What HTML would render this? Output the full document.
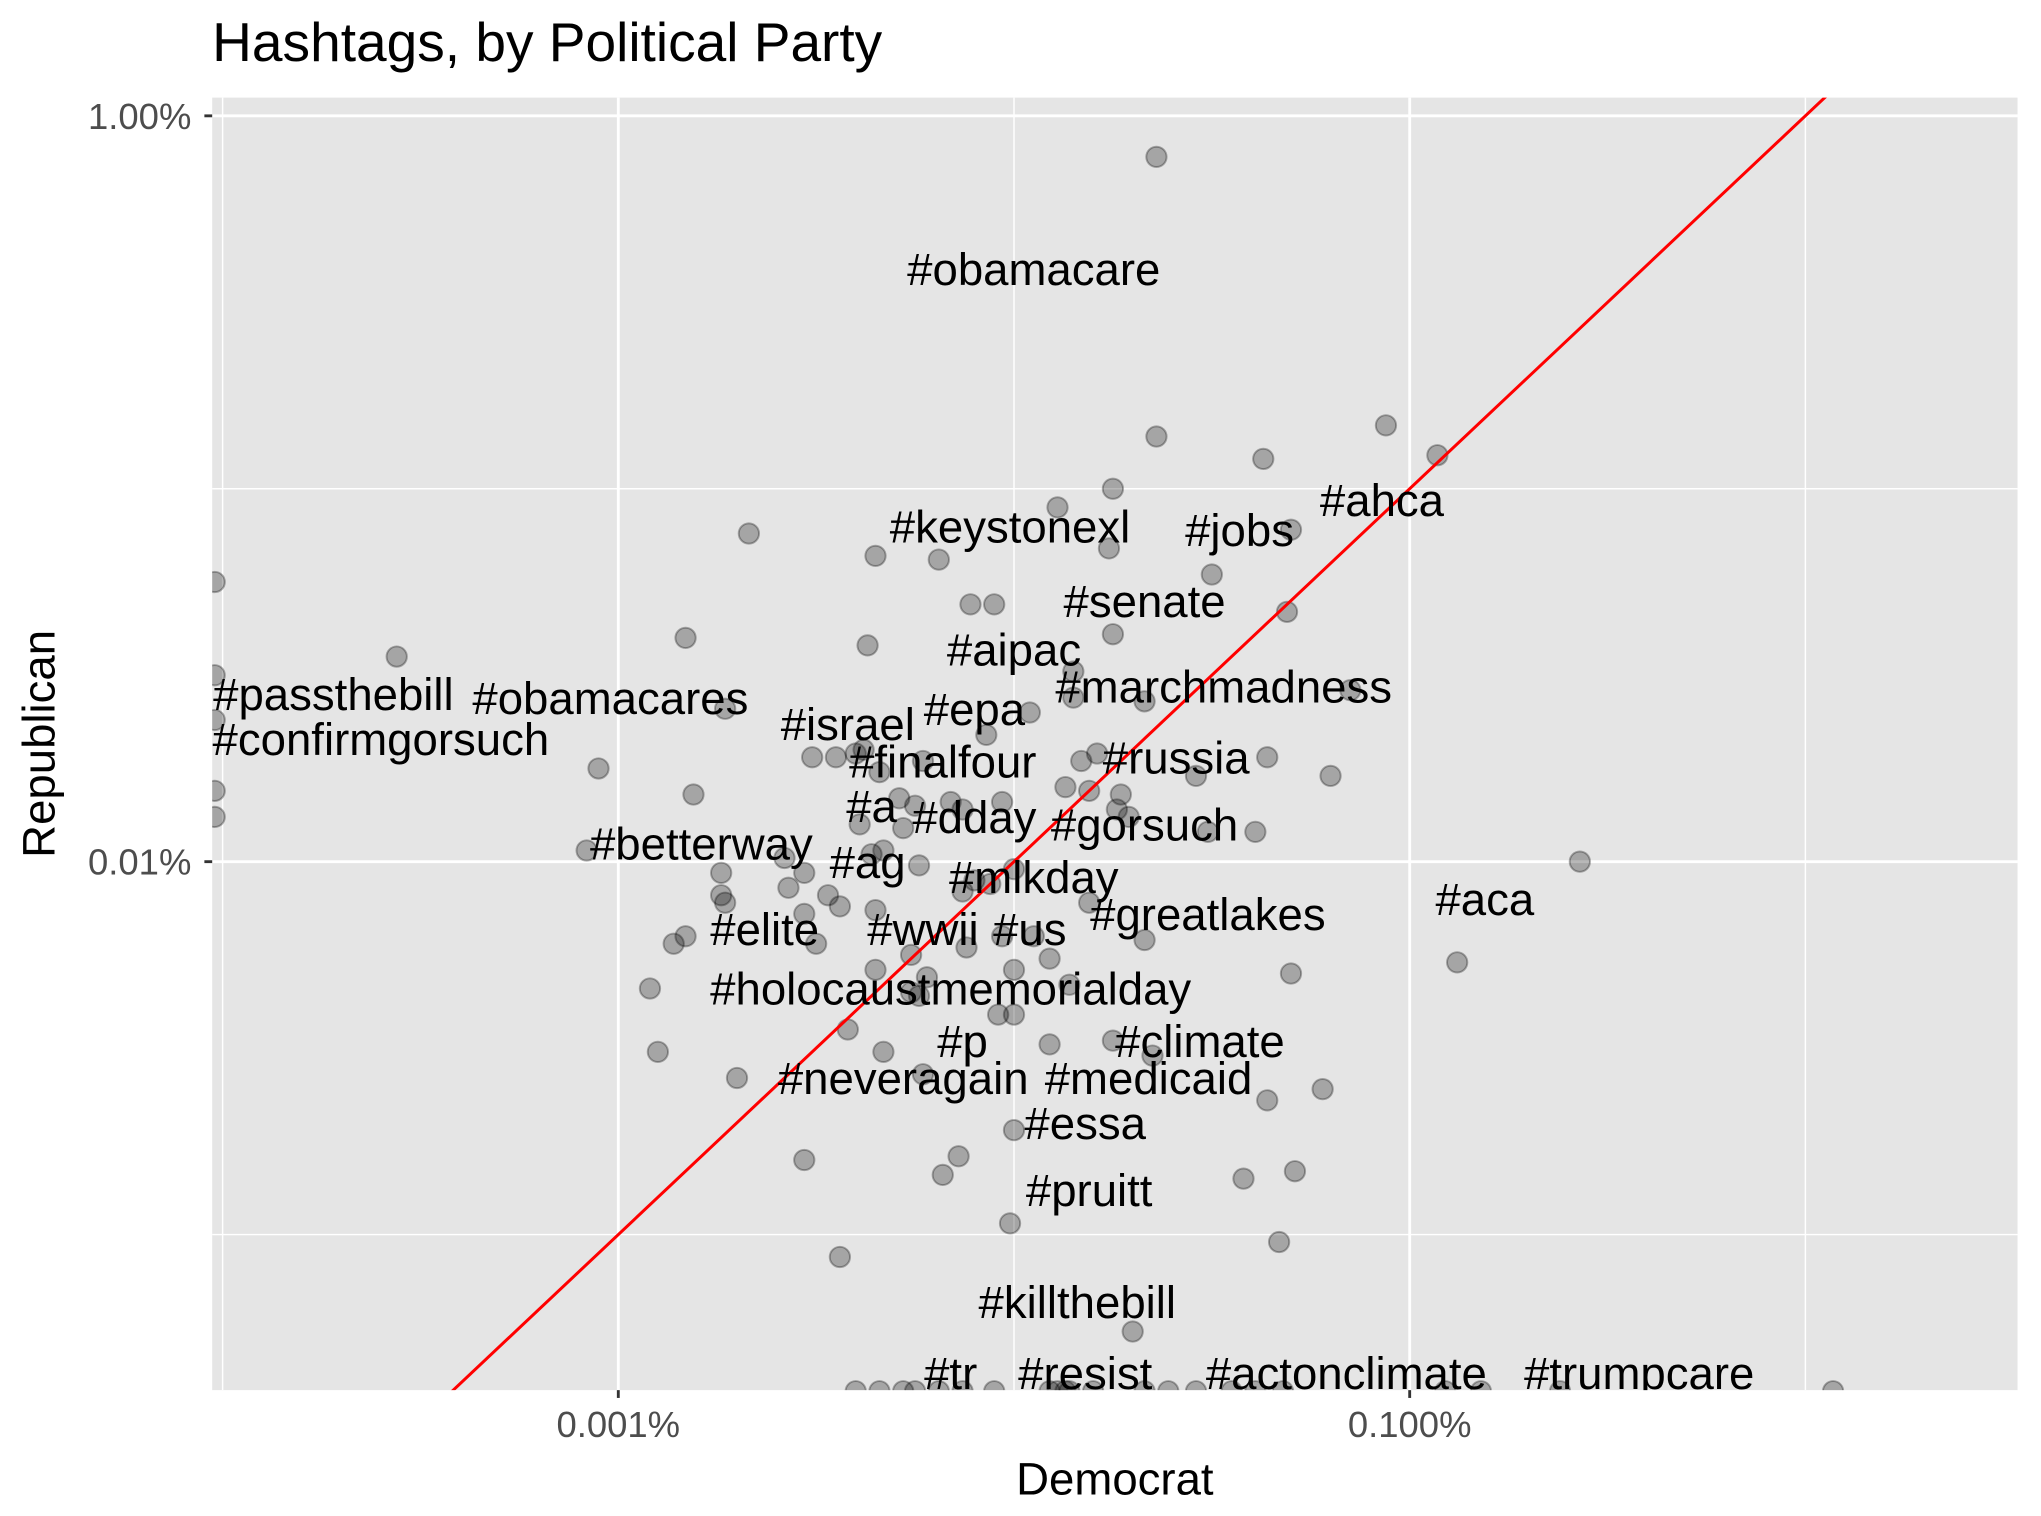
<!DOCTYPE html>
<html><head><meta charset="utf-8"><style>
html,body{margin:0;padding:0;background:#fff;overflow:hidden;width:2041px;height:1516px;}
svg{display:block;font-family:"Liberation Sans",Arial,sans-serif;}
</style></head><body>
<svg id="chart" width="2041" height="1516" viewBox="0 0 1568 1164.7" xmlns="http://www.w3.org/2000/svg">
<text x="163" y="47" font-size="42.3" fill="#000">Hashtags, by Political Party</text>
<defs><clipPath id="panelClip"><rect x="163" y="75" width="1387" height="993"/></clipPath></defs>
<rect x="163" y="75" width="1387" height="993" fill="#e5e5e5"/>
<g id="grid"></g>
<g id="marks" clip-path="url(#panelClip)"></g>
<g id="axes"></g>
<text x="856.5" y="1148" font-size="35" text-anchor="middle" fill="#000">Democrat</text>
<text transform="translate(42,571.5) rotate(-90)" font-size="35" text-anchor="middle" fill="#000">Republican</text>
</svg>
<script>
// log10 of percentage share
const demLog = [-1.64,-1.64,-1.06,-1.37,-0.93,-1.75,-1.89,-2.67,-2.35,-2.19,-1.76,-1.30,-1.50,-4.02,-2.11,-2.05,-1.31,-1.75,-2.83,-2.37,-3.56,-1.85,-4.02,-1.67,-1.15,-1.85,-2.73,-1.96,-4.02,-2.07,-3.05,-2.51,-2.45,-2.40,-2.38,-2.34,-2.23,-1.83,-1.79,-1.36,-1.54,-1.20,-2.81,-4.02,-4.02,-1.87,-1.81,-1.73,-2.03,-2.16,-2.13,-2.29,-2.25,-2.28,-2.39,-1.74,-1.71,-1.51,-1.39,-3.08,-2.58,-2.36,-2.33,-2.24,-2.74,-2.53,-2.57,-2.44,-2.74,-2.73,-2.53,-2.47,-2.35,-2.13,-2.10,-2.06,-2.00,-1.81,-1.67,-0.57,-2.83,-2.86,-2.50,-2.03,-2.12,-1.95,-1.91,-2.26,-2.35,-2.22,-2.26,-2.24,-2.00,-1.86,-1.30,-0.88,-2.92,-2.04,-2.00,-2.42,-2.90,-2.33,-1.91,-1.75,-1.65,-2.23,-2.70,-1.36,-1.22,-2.00,-2.14,-2.53,-2.18,-1.42,-1.29,-2.01,-2.44,-1.33,-1.70,
-2.40,-2.34,-2.28,-2.25,-2.19,-2.13,-2.05,-1.91,-1.89,-1.87,-1.86,-1.80,-1.67,-1.61,-1.54,-1.45,-1.39,-1.32,-0.91,-0.82,-0.62,0.07];
const repLog = [-0.11,-0.86,-0.83,-0.92,-0.91,-1.00,-1.05,-1.12,-1.18,-1.19,-1.16,-1.11,-1.23,-1.25,-1.31,-1.31,-1.33,-1.39,-1.40,-1.42,-1.45,-1.49,-1.50,-1.57,-1.54,-1.56,-1.59,-1.60,-1.62,-1.66,-1.75,-1.72,-1.72,-1.71,-1.70,-1.76,-1.73,-1.73,-1.71,-1.72,-1.77,-1.77,-1.82,-1.81,-1.88,-1.80,-1.81,-1.82,-1.84,-1.84,-1.86,-1.83,-1.85,-1.91,-1.90,-1.86,-1.88,-1.92,-1.92,-1.97,-1.99,-1.98,-1.97,-2.01,-2.03,-2.03,-2.07,-2.12,-2.09,-2.11,-2.14,-2.09,-2.13,-2.08,-2.05,-2.06,-2.02,-2.11,-2.21,-2.00,-2.20,-2.22,-2.22,-2.20,-2.23,-2.20,-2.26,-2.25,-2.29,-2.31,-2.35,-2.36,-2.29,-2.33,-2.30,-2.27,-2.34,-2.41,-2.41,-2.45,-2.51,-2.51,-2.49,-2.48,-2.52,-2.57,-2.58,-2.64,-2.61,-2.72,-2.79,-2.80,-2.84,-2.85,-2.83,-2.97,-3.06,-3.02,-3.26,
-3.42,-3.42,-3.42,-3.42,-3.42,-3.42,-3.42,-3.42,-3.42,-3.42,-3.42,-3.42,-3.42,-3.42,-3.42,-3.42,-3.42,-3.42,-3.42,-3.42,-3.42,-3.42];
const labelText = ["#obamacare","#keystonexl","#jobs","#ahca","#senate","#aipac","#marchmadness","#passthebill","#obamacares","#epa","#israel","#confirmgorsuch","#finalfour","#russia","#a","#dday","#gorsuch","#betterway","#ag","#mlkday","#greatlakes","#aca","#elite","#wwii","#us","#holocaustmemorialday","#p","#climate","#neveragain","#medicaid","#essa","#pruitt","#killthebill","#tr","#resist","#actonclimate","#trumpcare"];
const labelDem = [-1.95,-2.01,-1.43,-1.07,-1.67,-2.00,-1.47,-3.72,-3.02,-2.10,-2.42,-3.60,-2.18,-1.59,-2.36,-2.10,-1.67,-2.79,-2.37,-1.95,-1.51,-0.81,-2.63,-2.23,-1.96,-2.16,-2.13,-1.53,-2.28,-1.66,-1.82,-1.81,-1.84,-2.16,-1.82,-1.16,-0.42];
const labelRep = [-0.41,-1.10,-1.11,-1.03,-1.30,-1.43,-1.53,-1.55,-1.56,-1.59,-1.63,-1.67,-1.73,-1.72,-1.85,-1.88,-1.90,-1.95,-2.00,-2.04,-2.14,-2.10,-2.18,-2.18,-2.18,-2.34,-2.48,-2.48,-2.58,-2.58,-2.70,-2.88,-3.18,-3.37,-3.37,-3.37,-3.37];
const xTickVals = [-3,-1];
const xTickLabels = ["0.001%","0.100%"];
const xMinor = [-4,-2,0];
const yTickVals = [0,-2];
const yTickLabels = ["1.00%","0.01%"];
const yMinor = [-1,-3];

const NS = "http://www.w3.org/2000/svg";
const PL=163, PR=1550, PT=75, PB=1068;
function sx(v){return 475+(v+3)*304;}
function sy(v){return 89-v*286.5;}
function mk(tag,attrs,parent){const e=document.createElementNS(NS,tag);for(const k in attrs)e.setAttribute(k,attrs[k]);parent.appendChild(e);return e;}
const grid=document.getElementById('grid'), marks=document.getElementById('marks'), axes=document.getElementById('axes');
xMinor.forEach(v=>{const x=sx(v); if(x<PL||x>PR)return;
  const l=mk('line',{x1:x,x2:x,y1:PT,y2:PB,stroke:'#fff','stroke-width':1.1},grid);
  
  });
yMinor.forEach(v=>{const y=sy(v);
  const l=mk('line',{x1:PL,x2:PR,y1:y,y2:y,stroke:'#fff','stroke-width':1.1},grid);
  
  });
xTickVals.forEach((v,i)=>{const x=sx(v);
  const l=mk('line',{x1:x,x2:x,y1:PT,y2:PB,stroke:'#fff','stroke-width':2.2},grid);
  
  
  const t=mk('line',{x1:x,x2:x,y1:PB,y2:PB+6,stroke:'#333','stroke-width':2.2},axes);
  
  
  const tx=mk('text',{x:x,y:PB+36,'font-size':28,'text-anchor':'middle',fill:'#4d4d4d'},axes);
  tx.textContent=xTickLabels[i];
  
  });
yTickVals.forEach((v,i)=>{const y=sy(v);
  const l=mk('line',{x1:PL,x2:PR,y1:y,y2:y,stroke:'#fff','stroke-width':2.2},grid);
  
  
  const t=mk('line',{x1:PL-6,x2:PL,y1:y,y2:y,stroke:'#333','stroke-width':2.2},axes);
  
  
  const tx=mk('text',{x:PL-16,y:y+10,'font-size':28,'text-anchor':'end',fill:'#4d4d4d'},axes);
  tx.textContent=yTickLabels[i];
  
  });
demLog.forEach((d,i)=>{
  const c=mk('circle',{cx:sx(d),cy:sy(repLog[i]),r:7.8,fill:'rgba(0,0,0,0.28)',stroke:'rgba(0,0,0,0.3)','stroke-width':1.5},marks);
  
  });
// y = x reference line
const lo=-3.6, hi=0.3;
const ln=mk('line',{x1:sx(lo),y1:sy(lo),x2:sx(hi),y2:sy(hi),stroke:'#ff0000','stroke-width':2.3},marks);


labelText.forEach((s,i)=>{
  const t=mk('text',{x:sx(labelDem[i]),y:sy(labelRep[i])+12.5,'font-size':35,'text-anchor':'middle',fill:'#000'},marks);
  t.textContent=s;
  
  });
</script>
</body></html>
